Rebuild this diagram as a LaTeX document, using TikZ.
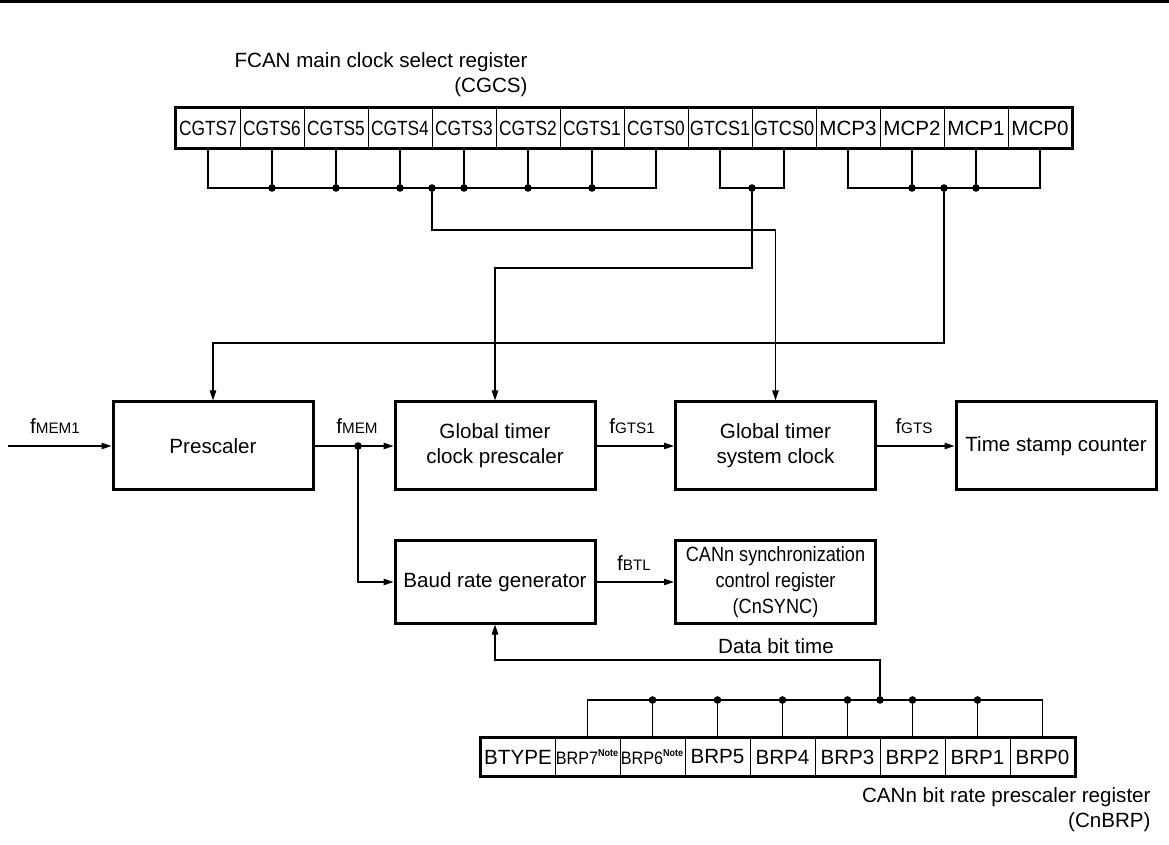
\documentclass[tikz,border=0pt]{standalone}
\usepackage{fontspec,graphicx}
\setmainfont{Liberation Sans}
\usetikzlibrary{arrows.meta}
\newcommand{\narrow}[2][0.84]{\scalebox{#1}[1]{#2}}
\newcommand{\fq}[1]{f{\fontsize{7.6}{9}\selectfont #1}}
\newcommand{\note}[1]{\scalebox{0.9}[1]{\fontsize{9}{10}\selectfont #1\textsuperscript{\fontsize{5}{6}\selectfont\bfseries Note}}}
\tikzset{
    every node/.style={font=\fontsize{10.3}{12.4}\selectfont},
    blk/.style={draw, line width=1.5pt, minimum width=100pt, minimum height=44pt, align=center, inner sep=1pt},
    cell/.style={draw, line width=0.5pt, minimum width=32pt, minimum height=20pt, inner sep=0pt},
    bcell/.style={cell, minimum width=32.5pt, minimum height=19pt},
    frame/.style={line width=1.5pt},
    wire/.style={line width=0.6pt},
    feed/.style={wire, -{Triangle[length=5pt,width=3.2pt]}},
    lbl/.style={inner sep=0pt}
}

\begin{document}
\begin{tikzpicture}[x=0.5pt,y=-0.5pt]
\useasboundingbox (0,0) rectangle (1169,845);
\draw[line width=1.5pt] (0,1.5) -- (1169,1.5);

% CGCS register
\node[lbl, align=right, anchor=north east] at (528,52) (cgcs) {FCAN main clock select register\\(CGCS)};
\node[cell] at (208,128) (cg7) {\narrow{CGTS7}};
\node[cell] at (272,128) (cg6) {\narrow{CGTS6}};
\node[cell] at (336,128) (cg5) {\narrow{CGTS5}};
\node[cell] at (400,128) (cg4) {\narrow{CGTS4}};
\node[cell] at (464,128) (cg3) {\narrow{CGTS3}};
\node[cell] at (528,128) (cg2) {\narrow{CGTS2}};
\node[cell] at (592,128) (cg1) {\narrow{CGTS1}};
\node[cell] at (656,128) (cg0) {\narrow{CGTS0}};
\node[cell] at (720,128) (gt1) {\narrow[0.88]{GTCS1}};
\node[cell] at (784,128) (gt0) {\narrow[0.88]{GTCS0}};
\node[cell] at (848,128) (mc3) {MCP3};
\node[cell] at (912,128) (mc2) {MCP2};
\node[cell] at (976,128) (mc1) {MCP1};
\node[cell] at (1040,128) (mc0) {MCP0};
\draw[frame] (cg7.north west) rectangle (mc0.south east);

% taps of the CGTS bits
\coordinate (cgbus) at (432,188);
\draw[wire] (cg7.south) |- (cgbus) -| (cg0.south);
\draw[wire] (cg6.south) -- (cg6.south |- cgbus);
\draw[wire] (cg5.south) -- (cg5.south |- cgbus);
\draw[wire] (cg4.south) -- (cg4.south |- cgbus);
\draw[wire] (cg3.south) -- (cg3.south |- cgbus);
\draw[wire] (cg2.south) -- (cg2.south |- cgbus);
\draw[wire] (cg1.south) -- (cg1.south |- cgbus);
\fill (cgbus) circle (1.9pt);
\fill (cg6.south |- cgbus) circle (1.9pt);
\fill (cg5.south |- cgbus) circle (1.9pt);
\fill (cg4.south |- cgbus) circle (1.9pt);
\fill (cg3.south |- cgbus) circle (1.9pt);
\fill (cg2.south |- cgbus) circle (1.9pt);
\fill (cg1.south |- cgbus) circle (1.9pt);

% GTCS and MCP bits
\coordinate (gtbus) at (752,188);
\draw[wire] (gt1.south) |- (gtbus) -| (gt0.south);
\fill (gtbus) circle (1.9pt);
\coordinate (mcbus) at (944,188);
\draw[wire] (mc3.south) |- (mcbus) -| (mc0.south);
\draw[wire] (mc2.south) -- (mc2.south |- mcbus);
\draw[wire] (mc1.south) -- (mc1.south |- mcbus);
\fill (mcbus) circle (1.9pt);
\fill (mc2.south |- mcbus) circle (1.9pt);
\fill (mc1.south |- mcbus) circle (1.9pt);

% clock chain
\node[blk] at (213,446) (pre) {Prescaler};
\node[blk] at (495,446) (gcp) {Global timer\\clock prescaler};
\node[blk] at (775.5,446) (gsc) {Global timer\\system clock};
\node[blk] at (1056,446) (tsc) {Time stamp counter};
\draw[feed] (cgbus) -- ++(0,42) -| (gsc.north);
\draw[feed] (gtbus) -- ++(0,80) -| (gcp.north);
\draw[feed] (mcbus) -- ++(0,155) -| (pre.north);

\coordinate (in) at (8,446);
\coordinate (fmem) at (358,446);
\draw[feed] (in) -- (pre);
\draw[feed] (pre) -- (gcp);
\draw[feed] (gcp) -- (gsc);
\draw[feed] (gsc) -- (tsc);
\fill (fmem) circle (1.9pt);
\node[lbl] at (55,426) (fmem1) {\fq{MEM1}};
\node[lbl] at (357,426) (fmemo) {\fq{MEM}};
\node[lbl] at (632,426) (fgts1) {\fq{GTS1}};
\node[lbl] at (914,426) (fgts) {\fq{GTS}};

% bit timing
\node[blk, minimum height=41pt] at (495,582) (brg) {Baud rate generator};
\node[blk, minimum height=41pt, font=\fontsize{10.3}{13}\selectfont] at (775.5,582) (sync)
    {\narrow[0.88]{CANn synchronization}\\\narrow[0.88]{control register}\\\narrow[0.88]{(CnSYNC)}};
\draw[feed] (fmem) |- (brg);
\draw[feed] (brg) -- (sync);
\node[lbl] at (634,563) (fbtl) {\fq{BTL}};
\node[lbl] at (776,646) (dbt) {Data bit time};

% CnBRP register
\node[bcell, minimum width=37pt] at (518,757) (bt) {BTYPE};
\node[bcell] at (587.5,757) (b7) {\note{BRP7}};
\node[bcell] at (652.5,757) (b6) {\note{BRP6}};
\node[bcell] at (717.5,757) (b5) {BRP5};
\node[bcell] at (782.5,757) (b4) {BRP4};
\node[bcell] at (847.5,757) (b3) {BRP3};
\node[bcell] at (912.5,757) (b2) {BRP2};
\node[bcell] at (977.5,757) (b1) {BRP1};
\node[bcell] at (1042.5,757) (b0) {BRP0};
\draw[frame] (bt.north west) rectangle (b0.south east);
\node[lbl, align=right, anchor=north east] at (1151,787) (cnbrp) {CANn bit rate prescaler register\\(CnBRP)};

\coordinate (bbus) at (880,700);
\draw[wire] (b7.north) |- (bbus) -| (b0.north);
\draw[wire] (b6.north) -- (b6.north |- bbus);
\draw[wire] (b5.north) -- (b5.north |- bbus);
\draw[wire] (b4.north) -- (b4.north |- bbus);
\draw[wire] (b3.north) -- (b3.north |- bbus);
\draw[wire] (b2.north) -- (b2.north |- bbus);
\draw[wire] (b1.north) -- (b1.north |- bbus);
\fill (bbus) circle (1.9pt);
\fill (b6.north |- bbus) circle (1.9pt);
\fill (b5.north |- bbus) circle (1.9pt);
\fill (b4.north |- bbus) circle (1.9pt);
\fill (b3.north |- bbus) circle (1.9pt);
\fill (b2.north |- bbus) circle (1.9pt);
\fill (b1.north |- bbus) circle (1.9pt);
\draw[feed] (bbus) -- ++(0,-40) -| (brg.south);
\end{tikzpicture}
\end{document}
